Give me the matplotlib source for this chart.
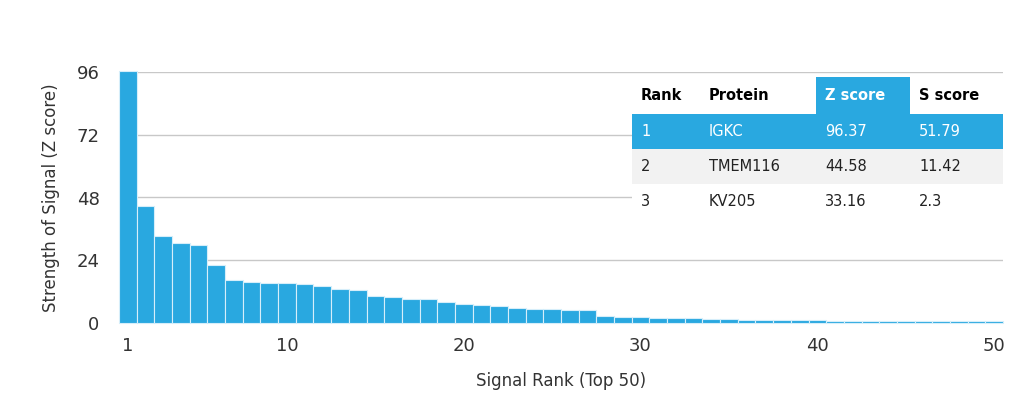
import matplotlib.pyplot as plt
from matplotlib.patches import Rectangle

ranks = list(range(1, 51))
z_scores = [96.37, 44.58, 33.16, 30.5, 30.0, 22.0, 16.5, 15.6, 15.3, 15.3,
            14.9, 14.2, 12.9, 12.8, 10.3, 9.9, 9.1, 9.0, 7.9, 7.4,
            6.9, 6.5, 5.9, 5.5, 5.3, 4.9, 4.9, 2.8, 2.3, 2.2,
            2.1, 2.0, 1.9, 1.6, 1.4, 1.3, 1.2, 1.1, 1.0, 1.0,
            0.9, 0.9, 0.8, 0.8, 0.7, 0.7, 0.7, 0.6, 0.6, 0.6]
yticks = [0, 24, 48, 72, 96]
xticks = [1, 10, 20, 30, 40, 50]

table_header = ["Rank", "Protein", "Z score", "S score"]
table_rows = [["1", "IGKC", "96.37", "51.79"],
              ["2", "TMEM116", "44.58", "11.42"],
              ["3", "KV205", "33.16", "2.3"]]

blue = '#29a8e0'
W, H = 1024, 411
fig = plt.figure(figsize=(W / 100, H / 100), dpi=100)
ax = fig.add_axes([119 / W, 1 - 323 / H, (1003 - 119) / W, (323 - 72) / H])
ax.bar(ranks, z_scores, width=1.0, color=blue, edgecolor='#d6eefa', linewidth=0.8, zorder=2, clip_on=False)
ax.set_xlim(0.5, 50.5)
ax.set_ylim(0, 96)
ax.set_yticks(yticks)
ax.set_xticks(xticks)
ax.grid(axis='y', color='#c8c8c8', linewidth=1, zorder=0)
for s in ax.spines.values():
    s.set_visible(False)
ax.tick_params(length=0, labelsize=13, colors='#333333')
ax.tick_params(axis='y', pad=14)
ax.tick_params(axis='x', pad=10)
ax.set_xlabel("Signal Rank (Top 50)", fontsize=12, color='#333333', labelpad=12)
ax.set_ylabel("Strength of Signal (Z score)", fontsize=12, color='#333333', labelpad=12)

# table overlay in pixel coords
ov = fig.add_axes([0, 0, 1, 1])
ov.set_xlim(0, W)
ov.set_ylim(H, 0)
ov.axis('off')
col_x = [632, 700, 816, 910, 1003]
row_y = [77, 114, 149, 184, 219]
for r in range(4):
    for c in range(4):
        if r == 0:
            fc = blue if c == 2 else 'white'
            tc = 'white' if c == 2 else 'black'
            text, weight = table_header[c], 'bold'
        else:
            fc = blue if r == 1 else ('#f2f2f2' if r == 2 else 'white')
            tc = 'white' if r == 1 else '#222222'
            text, weight = table_rows[r - 1][c], 'normal'
        ov.add_patch(Rectangle((col_x[c], row_y[r]), col_x[c + 1] - col_x[c],
                               row_y[r + 1] - row_y[r], facecolor=fc, edgecolor='none'))
        ov.text(col_x[c] + 9, (row_y[r] + row_y[r + 1]) / 2, text, color=tc,
                fontsize=10.5, fontweight=weight, va='center', ha='left')

fig.savefig('out.png', dpi=100)
